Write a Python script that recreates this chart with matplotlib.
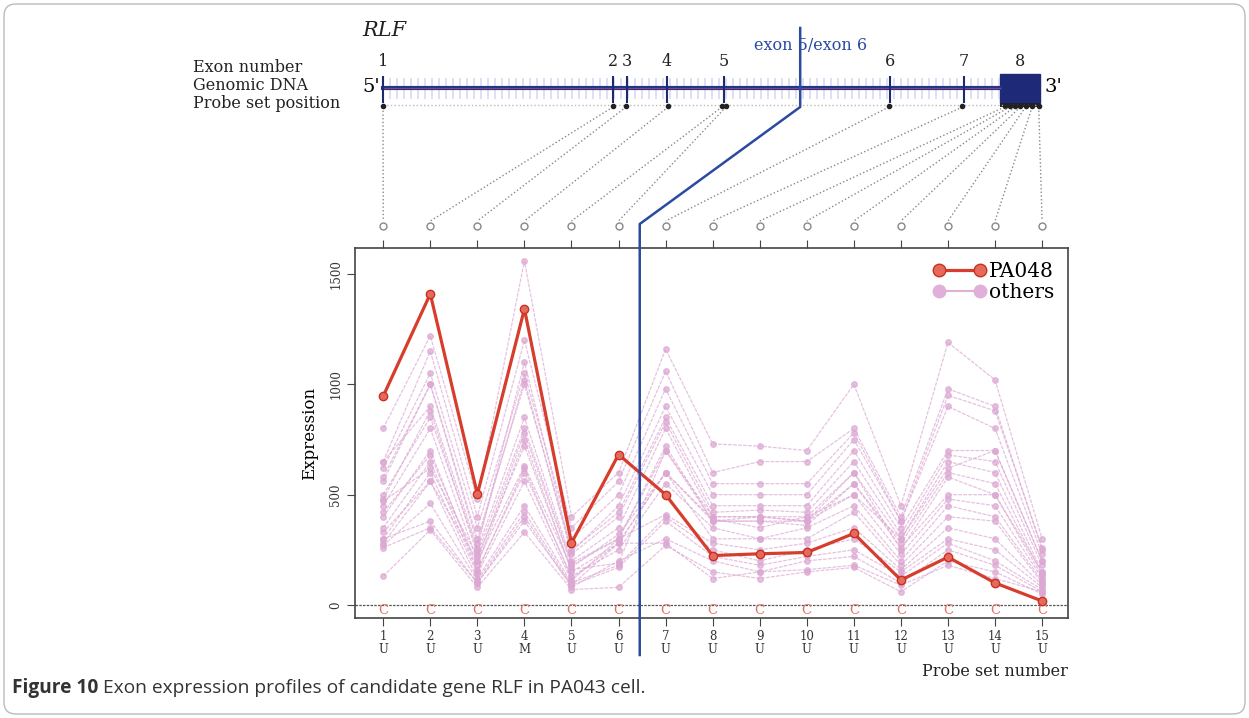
import numpy as np
import matplotlib
matplotlib.use('Agg')
from matplotlib import pyplot as plt
from matplotlib.patches import Rectangle, FancyBboxPatch

# podatki
probes = np.arange(1, 16)
probe_type = ['U', 'U', 'U', 'M', 'U', 'U', 'U', 'U', 'U', 'U', 'U', 'U', 'U', 'U', 'U']

pa048 = [947, 1410, 502, 1342, 281, 682, 500, 224, 232, 238, 324, 113, 217, 100, 18]

others = [
    [800, 1220, 480, 1560, 400, 600, 1160, 730, 720, 700, 1000, 450, 1190, 1020, 300],
    [650, 1150, 400, 1200, 350, 560, 1060, 600, 650, 650, 800, 400, 980, 900, 250],
    [620, 1050, 350, 1050, 300, 500, 980, 550, 550, 550, 780, 380, 900, 800, 230],
    [580, 1000, 300, 1000, 250, 420, 850, 450, 450, 450, 700, 350, 700, 700, 200],
    [560, 1000, 280, 1020, 230, 400, 830, 420, 430, 420, 650, 320, 680, 650, 180],
    [500, 850, 250, 850, 200, 350, 800, 400, 400, 400, 600, 300, 650, 600, 150],
    [480, 880, 230, 800, 190, 300, 700, 380, 400, 380, 550, 280, 600, 550, 140],
    [450, 800, 200, 780, 180, 300, 720, 380, 380, 380, 600, 250, 580, 500, 130],
    [420, 680, 180, 750, 150, 280, 600, 390, 350, 400, 500, 230, 480, 450, 120],
    [400, 700, 160, 600, 130, 250, 550, 350, 300, 350, 450, 200, 450, 400, 110],
    [350, 650, 150, 620, 120, 280, 600, 300, 300, 300, 420, 180, 400, 380, 100],
    [300, 600, 140, 560, 110, 300, 410, 280, 250, 280, 350, 160, 350, 300, 90],
    [280, 560, 120, 450, 100, 180, 400, 250, 200, 250, 300, 150, 300, 250, 80],
    [270, 460, 110, 420, 90, 170, 380, 220, 180, 220, 250, 130, 280, 200, 70],
    [300, 380, 100, 400, 80, 200, 300, 200, 150, 200, 220, 100, 250, 180, 60],
    [130, 340, 80, 330, 70, 80, 270, 150, 120, 150, 170, 60, 200, 150, 50],
    [260, 350, 100, 380, 90, 280, 280, 120, 150, 160, 180, 90, 180, 120, 60],
    [470, 620, 220, 720, 160, 190, 700, 400, 400, 380, 500, 300, 620, 700, 200],
    [650, 900, 260, 1100, 240, 450, 900, 500, 500, 500, 750, 380, 950, 880, 260],
    [330, 560, 200, 630, 170, 320, 600, 380, 380, 360, 550, 260, 500, 500, 150],
]

# gen: polozaji v relativnih enotah 0..100
exon_labels = ['1', '2', '3', '4', '5', '6', '7', '8']
exon_pos = [0, 35.0, 37.1, 43.2, 51.9, 77.2, 88.4, 97.0]
exon8_span = (93.9, 100)
probe_gene_pos = [0, 35.0, 37.0, 43.4, 51.6, 52.2, 77.0, 88.2,
                  94.6, 95.4, 96.2, 97.0, 97.8, 98.8, 99.8]
boundary_gene_pos = 63.5
boundary_probe = 6.45

serif = 'DejaVu Serif'
pink = '#dca8d3'
red = '#d63d2c'
blue = '#2b4aa0'

fig = plt.figure(figsize=(12.49, 7.18), dpi=100)
W, H = 1249, 718


def box(l, t, r, b):
    return [l / W, 1 - b / H, (r - l) / W, (b - t) / H]


ax = fig.add_axes(box(355, 248, 1068, 618))
for s in others:
    ax.plot(probes, s, ls=(0, (3, 1)), color=pink, lw=0.9, alpha=0.7,
            marker='o', ms=4, mfc=pink, mec=pink, zorder=2)
ax.plot([], [], '-', color='#e0b0d8', lw=1.5, marker='o', ms=9, label='others')
ax.plot(probes, pa048, '-', color=red, lw=2.3, marker='o', ms=6,
        mfc='#e56a5e', mec='#c9301f', zorder=4, label='PA048')
ax.axhline(0, color='#555555', lw=0.9, ls=(0, (2, 1)), zorder=1)
for p in probes:
    ax.text(p, -25, 'C', color='#e07060', ha='center', va='center',
            fontsize=9.5, family=serif)

ax.set_xlim(0.4, 15.55)
ax.set_ylim(-59, 1618)
ax.set_xticks(probes)
ax.set_xticklabels([f'{p}\n{t}' for p, t in zip(probes, probe_type)],
                   fontsize=8.5, family=serif, linespacing=0.95, color='#333333')
ax.set_yticks([0, 500, 1000, 1500])
ax.set_yticklabels(['0', '500', '1000', '1500'], rotation=90, va='center',
                   fontsize=8.5, family=serif, color='#333333')
ax.tick_params(direction='out', length=6, color='#444444', top=True, pad=3)
for sp in ax.spines.values():
    sp.set_color('#444444')
    sp.set_linewidth(1.2)
ax.set_ylabel('Expression', fontsize=12, family=serif, labelpad=8)
h, l = ax.get_legend_handles_labels()
leg = ax.legend(h[::-1], l[::-1], loc='upper right', frameon=False, numpoints=2,
                prop={'family': serif, 'size': 14.5}, handlelength=2.6,
                handletextpad=0.15, labelspacing=0.1, borderaxespad=0.3)
leg.legend_handles[0].set_markersize(9)

# overlay v pikslih
ov = fig.add_axes([0, 0, 1, 1])
ov.set_xlim(0, W)
ov.set_ylim(H, 0)
ov.axis('off')
ov.patch.set_alpha(0)
ov.set_zorder(5)

g0, g1 = 383, 1040


def gpx(g):
    return g0 + (g1 - g0) * g / 100.0


def ppx(p):
    d = ax.transData.transform((p, 0))
    return ov.transData.inverted().transform(d)[0]


ov.add_patch(FancyBboxPatch((4, 4), W - 8, H - 8,
                            boxstyle='round,pad=0,rounding_size=12',
                            fc='none', ec='#bbbbbb', lw=1))

ov.text(362, 31, 'RLF', fontsize=15, family=serif, style='italic',
        ha='left', va='center', color='#222222')
for txt, y in [('Exon number', 68), ('Genomic DNA', 86), ('Probe set position', 104)]:
    ov.text(193, y, txt, fontsize=11.5, family=serif, ha='left', va='center',
            color='#222222')

# intron "vzorec"
hx = np.arange(g0, gpx(exon8_span[0]), 7)
ov.vlines(hx, 78, 99, color='#c2c8ea', lw=1.3, alpha=0.6)
ov.plot([g0, gpx(exon8_span[0])], [88, 88], color='#26358a', lw=3)
ov.plot([g0, gpx(exon8_span[0])], [88, 88], color='#d0506a', lw=0.7, alpha=0.6)
ov.plot([g0, g1], [105, 105], color='#bbbbbb', lw=1, ls=':')
for g in exon_pos[:-1]:
    ov.vlines(gpx(g), 76, 103, color='#1e2a6e', lw=1.5)
for lab, g in zip(exon_labels, exon_pos):
    ov.text(gpx(g), 61, lab, fontsize=11.5, family=serif, ha='center',
            va='center', color='#222222')
ov.add_patch(Rectangle((gpx(exon8_span[0]), 74),
                       gpx(exon8_span[1]) - gpx(exon8_span[0]), 29,
                       fc='#1e2a78', ec='#1e2a78'))
ov.add_patch(Rectangle((gpx(exon8_span[0]), 103),
                       gpx(exon8_span[1]) - gpx(exon8_span[0]), 4,
                       fc='#222222', ec='none'))
ov.text(371, 87, "5'", fontsize=14, family=serif, ha='center', va='center')
ov.text(1053, 87, "3'", fontsize=14, family=serif, ha='center', va='center')

# povezave sond
for p, g in zip(probes, probe_gene_pos):
    x = ppx(p)
    ov.plot([gpx(g), x], [107, 221], color='#888888', lw=1, ls=':')
    ov.plot(gpx(g), 106, 'o', color='#222222', ms=3)
    ov.plot(x, 226, 'o', mfc='none', mec='#888888', ms=5, mew=1)

# meja ekson 5 / ekson 6
bx = gpx(boundary_gene_pos)
px6 = ppx(boundary_probe)
ov.plot([bx, bx, px6, px6], [28, 107, 224, 655], color=blue, lw=1.8)
ov.text(754, 45, 'exon 5/exon 6', fontsize=11.5, family=serif, color=blue,
        ha='left', va='center')

ov.text(1068, 672, 'Probe set number', fontsize=11.5, family=serif,
        ha='right', va='center', color='#222222')

# napis slike
t1 = ov.text(12, 688, 'Figure 10', fontsize=13.8, family='Open Sans',
             weight='bold', ha='left', va='center', color='#333333')
r = fig.canvas.get_renderer()
bb = t1.get_window_extent(renderer=r)
x2 = ov.transData.inverted().transform((bb.x1, 0))[0]
ov.text(x2 + 5, 688, 'Exon expression profiles of candidate gene RLF in PA043 cell.',
        fontsize=13.8, family='Open Sans', ha='left', va='center', color='#333333')

fig.savefig('out.png', dpi=100)
